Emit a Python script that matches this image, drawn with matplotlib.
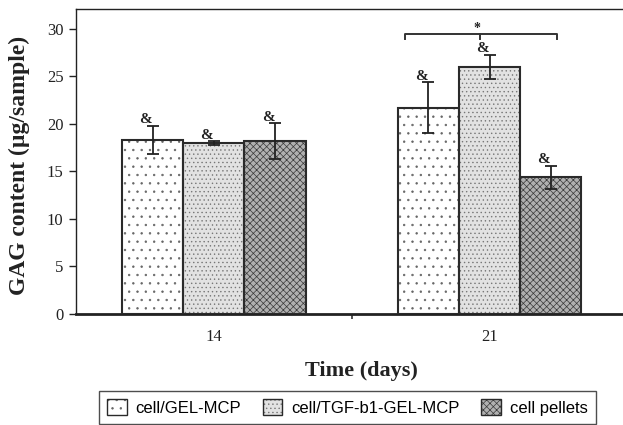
import matplotlib
matplotlib.use("Agg")
import matplotlib.pyplot as plt
from matplotlib.patches import Patch
import numpy as np

# ---- data ----
days = ["14", "21"]
series_names = ["cell/GEL-MCP", "cell/TGF-b1-GEL-MCP", "cell pellets"]
gel_mcp = [18.3, 21.7]
gel_mcp_err = [1.5, 2.7]
tgf_gel_mcp = [18.0, 26.0]
tgf_gel_mcp_err = [0.2, 1.3]
pellets = [18.2, 14.4]
pellets_err = [1.9, 1.2]
mark_labels = ["&", "&", "&"]
yticks = [0, 5, 10, 15, 20, 25, 30]

values = [gel_mcp, tgf_gel_mcp, pellets]
errors = [gel_mcp_err, tgf_gel_mcp_err, pellets_err]

# ---- styles ----
faces = ["white", "#e2e2e2", "#b0b0b0"]
hatches = ["..", "....", "xxxxx"]
hatch_cols = ["#666666", "#777777", "#3a3a3a"]

plt.rcParams["hatch.linewidth"] = 0.5
serif = ["Liberation Serif", "DejaVu Serif"]
sans = ["Liberation Sans", "DejaVu Sans"]

fig = plt.figure(figsize=(6.23, 4.25), dpi=100)
ax = fig.add_axes([76 / 623, 1 - 314 / 425, (2 * 275.7) / 623, (314 - 9) / 425])

x = np.arange(len(days))
w = 0.222
offsets = [-w, 0, w]

legend_handles = []
for i in range(3):
    xs = x + offsets[i]
    ax.bar(xs, values[i], w, color=faces[i], hatch=hatches[i],
           edgecolor=hatch_cols[i], linewidth=0, zorder=2)
    ax.bar(xs, values[i], w, fill=False, edgecolor="#2a2a2a", linewidth=1.5, zorder=3)
    ax.errorbar(xs, values[i], yerr=errors[i], fmt="none", ecolor="#222222",
                elinewidth=1.3, capsize=4, capthick=1.3, zorder=4)
    for xi, v, e in zip(xs, values[i], errors[i]):
        ax.annotate(mark_labels[i], (xi, v + e), xytext=(-7, 6),
                    textcoords="offset pixels", ha="center", va="center",
                    fontsize=11, fontweight="bold", family=serif, color="#222222",
                    zorder=5)
    legend_handles.append((
        Patch(facecolor=faces[i], hatch=hatches[i], edgecolor=hatch_cols[i], linewidth=0),
        Patch(fill=False, edgecolor="#2a2a2a", linewidth=1.0),
    ))

# significance bracket over day 21
g = x[1]
br_y, br_tick = 29.5, 28.9
ax.plot([g - 0.305, g - 0.305, g + 0.243, g + 0.243],
        [br_tick, br_y, br_y, br_tick], color="#333333", lw=1.4, zorder=4)
ax.plot([g - 0.033, g - 0.033], [br_y, br_tick], color="#333333", lw=1.4, zorder=4)
ax.text(g - 0.044, br_y + 0.55, "*", ha="center", va="center", fontsize=10,
        fontweight="bold", family=serif, color="#222222")

ax.set_xlim(-0.5, 1.5)
ax.set_ylim(0, 32.1)
ax.set_xticks(x)
ax.set_xticklabels(days, family=serif, fontsize=12, color="#222222")
ax.set_xticks([0.5], minor=True)
ax.tick_params(axis="x", which="major", length=0, pad=11)
ax.tick_params(axis="x", which="minor", length=3.6, width=1.2, direction="out", color="#333333")
ax.set_yticks(yticks)
ax.set_yticklabels([str(t) for t in yticks], family=serif, fontsize=12, color="#222222")
ax.tick_params(axis="y", length=5, width=1.0, direction="out", pad=4, color="#222222")

ax.spines["right"].set_visible(False)
ax.spines["top"].set_linewidth(1.0)
ax.spines["left"].set_linewidth(1.0)
ax.spines["bottom"].set_linewidth(2.0)
for s in ["top", "left", "bottom"]:
    ax.spines[s].set_color("#222222")

fig.text(19 / 623, 1 - 165 / 425, "GAG content (µg/sample)", rotation=90,
         ha="center", va="center", fontsize=17, fontweight="bold", family=serif,
         color="#222222")
fig.text(361 / 623, 1 - 371 / 425, "Time (days)", ha="center", va="center",
         fontsize=16, fontweight="bold", family=serif, color="#222222")

leg = fig.legend(legend_handles, series_names, loc="upper left",
                 bbox_to_anchor=(99 / 623, 1 - 391 / 425), ncol=3,
                 frameon=True, fancybox=False, borderaxespad=0, borderpad=0.5,
                 handlelength=1.15, handleheight=1.1, handletextpad=0.55,
                 columnspacing=1.3, prop={"family": sans, "size": 12})
leg.get_frame().set_edgecolor("#222222")
leg.get_frame().set_linewidth(1.0)

fig.savefig("out.png", dpi=100)
